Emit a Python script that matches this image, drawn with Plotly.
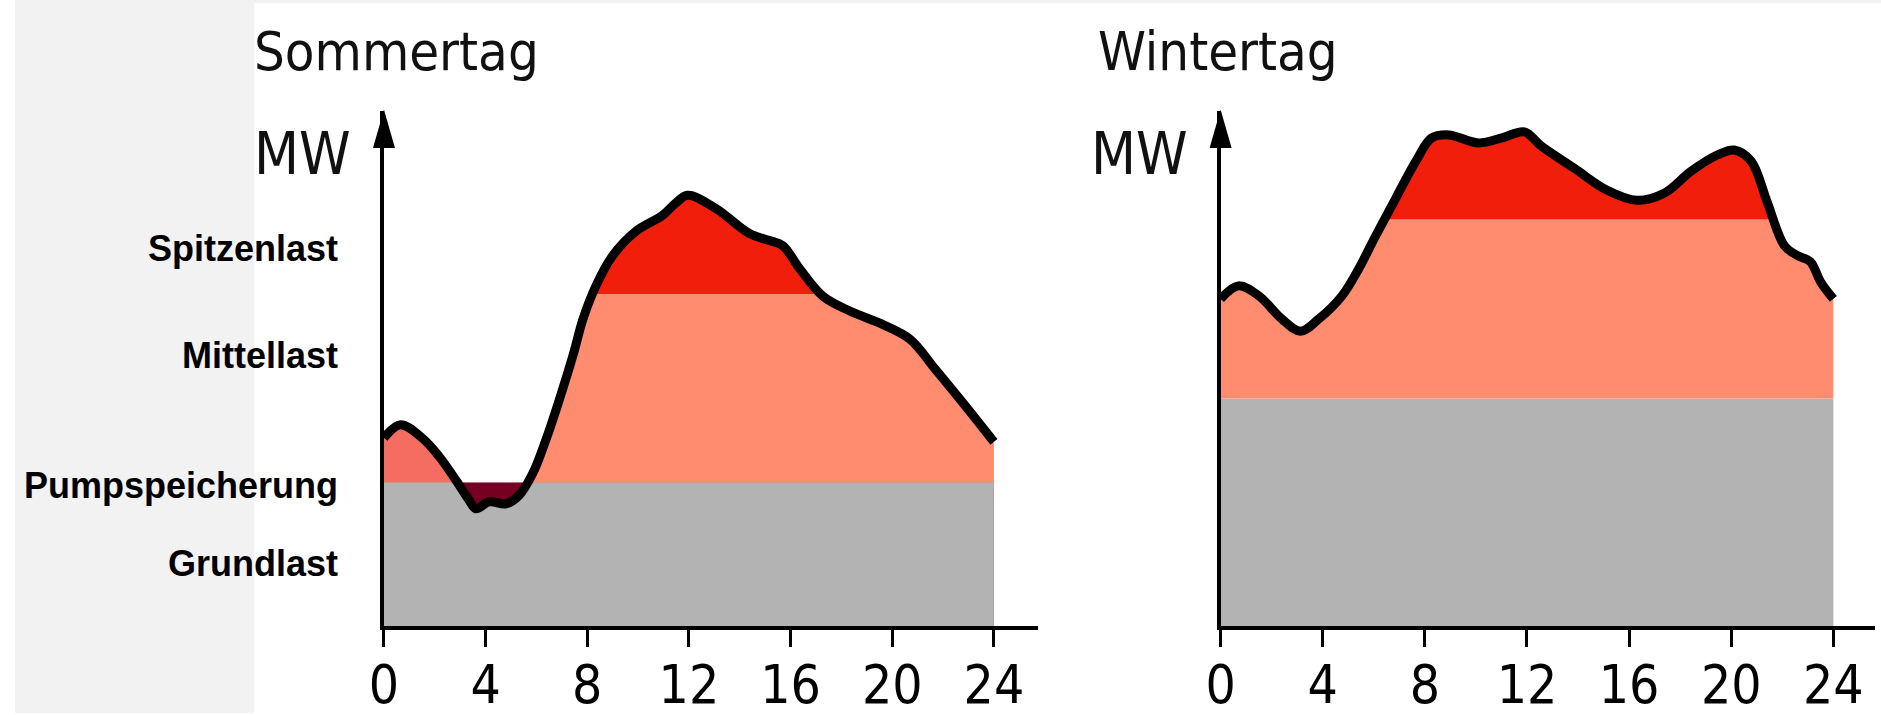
import plotly.graph_objects as go

# ---------------- data ----------------
tick_hours = [0, 4, 8, 12, 16, 20, 24]
tick_labels = ["0", "4", "8", "12", "16", "20", "24"]

band_names = ["Spitzenlast", "Mittellast", "Pumpspeicherung", "Grundlast"]
panel_titles = ["Sommertag", "Wintertag"]
unit_label = "MW"

summer_h = [0, 0.65, 1.52, 2.17, 2.83, 3.35, 3.62, 4.14, 4.8, 5.32, 5.85, 6.37, 6.9,
            7.45, 7.83, 8.34, 9.0, 9.9, 10.96, 11.47, 11.95, 13.05, 14.38, 15.17, 15.69,
            16.36, 17.26, 18.33, 19.6, 20.7, 21.7, 22.9, 24.0]
summer_mw = [37.4, 40.0, 37.3, 33.7, 29.0, 25.0, 23.3, 24.7, 24.3, 26.0, 30.3, 37.0, 45.0,
             54.0, 61.0, 67.6, 73.6, 78.4, 81.6, 84.0, 85.6, 83.0, 78.0, 76.6, 75.6,
             71.0, 65.6, 62.6, 60.0, 57.0, 51.0, 43.6, 36.6]
summer_grund = 28.6     # top of base load band
summer_spitze = 66.0    # bottom of peak load band
summer_pump_end = 8     # points of the morning section (pumped storage)

winter_h = [0, 0.7, 1.5, 2.4, 3.13, 3.84, 4.75, 5.41, 6.08, 6.86, 7.65, 8.27,
            8.94, 10.1, 11.02, 11.9, 12.55, 13.84, 15.14, 16.31, 17.37, 18.43,
            19.45, 20.12, 20.78, 21.4, 22.08, 22.6, 23.1, 23.5, 24.0]
winter_mw = [65.0, 67.6, 65.6, 61.0, 58.6, 61.0, 65.6, 71.0, 77.6, 85.0, 92.4, 97.0,
             97.6, 96.0, 97.0, 98.2, 95.4, 91.0, 86.6, 84.6, 86.0, 90.4,
             93.6, 94.6, 92.4, 84.4, 75.6, 73.6, 72.4, 68.4, 65.0]
winter_grund = 45.2
winter_spitze = 80.8

y_top_value = 102.4     # value at the arrow tip
day_end = 24

# ---------------- styling ----------------
W, H = 1881, 715
C_GRAY = "#b3b3b3"
C_SALMON = "#ff8c6e"
C_RED = "#f01e0a"
C_PUMP_UP = "#f56c60"
C_PUMP_DOWN = "#760022"
NARROW = "Liberation Sans Narrow, Arial Narrow, DejaVu Sans Condensed, sans-serif"
BOLD = "Liberation Sans, Arial, Helvetica, sans-serif"

# compensation of the photographed page (observed offset / scale)
OX, OY, S = 13.0, 3.0, 0.9907


def fx(px):          # target picture x (px) -> paper fraction
    return ((px - OX) / S) / W


def fy(py):          # target picture y (px) -> paper fraction
    return 1 - ((py - OY) / S) / H


yb = fy(625)
yt = fy(113)


def frac(v):
    return yb + v / y_top_value * (yt - yb)


panels = [
    dict(h=summer_h, mw=summer_mw, g=summer_grund, p=summer_spitze, pump=True,
         ax_px=381.5, xdom=[fx(381.5), fx(1035)], xmax=25.75, xid="x",
         yids=["y", "y2", "y3", "y4"]),
    dict(h=winter_h, mw=winter_mw, g=winter_grund, p=winter_spitze, pump=False,
         ax_px=1217, xdom=[fx(1217), fx(1871)], xmax=25.65, xid="x2",
         yids=["y5", "y6", "y7", "y8"]),
]

fig = go.Figure()
layout = dict(
    width=W, height=H, autosize=False,
    margin=dict(l=0, r=0, t=0, b=0, pad=0),
    paper_bgcolor="white", plot_bgcolor="rgba(0,0,0,0)",
    showlegend=False,
)


def ax_name(aid):
    return ("xaxis" if aid[0] == "x" else "yaxis") + aid[1:]


shapes = [
    dict(type="rect", xref="paper", yref="paper", x0=0, x1=fx(252), y0=0, y1=1,
         fillcolor="#f2f2f2", line_width=0, layer="below"),
    dict(type="rect", xref="paper", yref="paper", x0=0, x1=1, y0=fy(6), y1=1,
         fillcolor="#f2f2f2", line_width=0, layer="below"),
]

for pn in panels:
    xid = pn["xid"]
    yg, ym, yp, ymain = pn["yids"]
    g, p = pn["g"], pn["p"]
    line = dict(shape="spline", smoothing=1, width=0)
    # clip windows
    layout[ax_name(yg)] = dict(domain=[yb, frac(g)], range=[0, g], visible=False, anchor=xid)
    layout[ax_name(ym)] = dict(domain=[frac(g), frac(p)], range=[g, p], visible=False, anchor=xid)
    layout[ax_name(yp)] = dict(domain=[frac(p), yt], range=[p, y_top_value], visible=False, anchor=xid)
    layout[ax_name(ymain)] = dict(domain=[yb, yt], range=[0, y_top_value], anchor=xid,
                                  showline=True, linecolor="black", linewidth=3.5,
                                  showticklabels=False, ticks="", showgrid=False,
                                  zeroline=False, fixedrange=True)
    layout[ax_name(xid)] = dict(domain=pn["xdom"], range=[0, pn["xmax"]], anchor=ymain,
                                showline=True, linecolor="black", linewidth=4,
                                ticks="outside", ticklen=17, tickwidth=3, tickcolor="black",
                                tickvals=tick_hours, ticktext=tick_labels,
                                ticklabelstandoff=-8,
                                tickfont=dict(family=NARROW, size=53, color="black"),
                                showgrid=False, zeroline=False, fixedrange=True)
    # base load band (with pumped-storage dip)
    if pn["pump"]:
        fig.add_trace(go.Scatter(x=[0, day_end], y=[g, g], mode="lines", line=dict(width=0),
                                 fill="tozeroy", fillcolor=C_PUMP_DOWN, xaxis=xid, yaxis=yg,
                                 hoverinfo="skip"))
    fig.add_trace(go.Scatter(x=pn["h"], y=pn["mw"], mode="lines", line=line, fill="tozeroy",
                             fillcolor=C_GRAY, xaxis=xid, yaxis=yg, hoverinfo="skip"))
    # medium load band
    fig.add_trace(go.Scatter(x=pn["h"], y=pn["mw"], mode="lines", line=line, fill="tozeroy",
                             fillcolor=C_SALMON, xaxis=xid, yaxis=ym, hoverinfo="skip"))
    if pn["pump"]:
        k = summer_pump_end
        fig.add_trace(go.Scatter(x=pn["h"][:k], y=pn["mw"][:k], mode="lines", line=line,
                                 fill="tozeroy", fillcolor=C_PUMP_UP, xaxis=xid, yaxis=ym,
                                 hoverinfo="skip"))
    # peak load band
    fig.add_trace(go.Scatter(x=pn["h"], y=pn["mw"], mode="lines", line=line, fill="tozeroy",
                             fillcolor=C_RED, xaxis=xid, yaxis=yp, hoverinfo="skip"))
    # load curve
    fig.add_trace(go.Scatter(x=pn["h"], y=pn["mw"], mode="lines",
                             line=dict(shape="spline", smoothing=1, width=9, color="black"),
                             xaxis=xid, yaxis=ymain, hoverinfo="skip"))
    # arrow head on top of the y axis (paper coordinates, not clipped)
    ax = pn["ax_px"]
    shapes.append(dict(
        type="path", xref="paper", yref="paper",
        path=(f"M{fx(ax - 11)},{fy(150)} L{fx(ax + 11)},{fy(150)} "
              f"L{fx(ax)},{fy(112)} Z"),
        fillcolor="black", line=dict(width=0), layer="above"))

layout["shapes"] = shapes

annotations = []
title_pos = [(250, 54), (1093, 54)]
for (px, py), t in zip(title_pos, panel_titles):
    annotations.append(dict(text=t, x=fx(px), y=fy(py), xref="paper", yref="paper",
                            xanchor="left", yanchor="middle", showarrow=False,
                            font=dict(family=NARROW, size=54, color="#111111")))
for px in (250, 1086):
    annotations.append(dict(text=unit_label, x=fx(px), y=fy(156), xref="paper", yref="paper",
                            xanchor="left", yanchor="middle", showarrow=False,
                            font=dict(family=NARROW, size=58, color="#111111")))
label_y = [250, 356, 485, 563]
for name, py in zip(band_names, label_y):
    annotations.append(dict(text=name, x=fx(338), y=fy(py), xref="paper", yref="paper",
                            xanchor="right", yanchor="middle", showarrow=False,
                            font=dict(family=BOLD, size=36, color="black", weight="bold")))
layout["annotations"] = annotations

fig.update_layout(**layout)
fig.write_html(
    "out.html",
    config={"displayModeBar": False},
    post_script=(
        "var s=document.createElement('style');"
        "s.textContent='html,body{margin:0;padding:0;overflow:hidden;}';"
        "document.head.appendChild(s);"
    ),
)
